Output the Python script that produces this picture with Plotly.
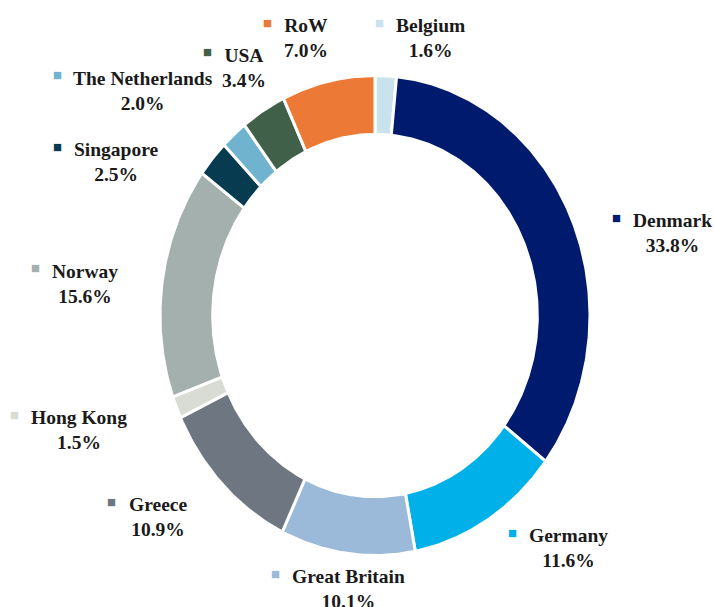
import numpy as np
import plotly.graph_objects as go

# ---- data ----
countries = ["Belgium", "Denmark", "Germany", "Great Britain", "Greece", "Hong Kong",
             "Norway", "Singapore", "The Netherlands", "USA", "RoW"]
shares = [1.6, 33.8, 11.6, 10.1, 10.9, 1.5, 15.6, 2.5, 2.0, 3.4, 7.0]
colors = ["#C9E2EC", "#001A6E", "#00B0E8", "#9BBAD9", "#6E7781", "#D8DCD4",
          "#A3B0AE", "#073B4F", "#6FB3CF", "#41604A", "#EC7A36"]

# ---- label placement style (angular nudge in degrees and radial factor) ----
label_shift_deg = [5.9, 6.0, -4.5, -1.2, 1.3, -0.2, -1.6, -7.9, 0.1, 2.3, -2.8]
label_radial = [1.01, 0.996, 1.03, 0.984, 1.046, 1.056, 1.007, 1.016, 1.07, 1.02, 1.035]

# ---- layout / style ----
W, H = 714, 607
CX, CY = 375, 315.5          # donut centre in pixels
RX, RY = 215, 240            # outer radii in pixels (ellipse)
HOLE = 0.755
FONT = "Liberation Serif, Times New Roman, serif"
FS = 19.5
TXT = "#1a1a1a"

# approximate advance widths (1/1000 em) of the bold serif face, to place the markers
ADV = {" ": 250, "A": 722, "B": 667, "D": 722, "G": 778, "H": 778, "K": 778, "N": 722,
       "R": 722, "S": 556, "T": 667, "U": 722, "W": 1000, "a": 500, "b": 556, "c": 444,
       "d": 556, "e": 444, "g": 500, "h": 556, "i": 278, "k": 556, "l": 278, "m": 833,
       "n": 556, "o": 500, "p": 556, "r": 444, "s": 389, "t": 333, "u": 556, "w": 722,
       "y": 500}


def text_w(s):
    return sum(ADV.get(ch, 556) for ch in s) / 1000 * FS


fig = go.Figure()
total = sum(shares)
start = 0.0
for name, v, col, sh, rf in zip(countries, shares, colors, label_shift_deg, label_radial):
    a0 = start / total * 2 * np.pi
    a1 = (start + v) / total * 2 * np.pi
    t = np.linspace(a0, a1, max(8, int(v * 6)))
    xo, yo = np.sin(t), np.cos(t)
    xs = np.concatenate([xo, HOLE * xo[::-1], [xo[0]]])
    ys = np.concatenate([yo, HOLE * yo[::-1], [yo[0]]])
    fig.add_trace(go.Scatter(x=xs, y=ys, mode="lines", fill="toself", fillcolor=col,
                             line=dict(color="white", width=3), hoverinfo="skip",
                             showlegend=False))
    # label: name with percentage centred below it, coloured square to the left
    m = (a0 + a1) / 2 + np.deg2rad(sh)
    s, c = np.sin(m) * rf, np.cos(m) * rf
    wpx = 17 + len(name) * 10
    ax, ay = (1 + 45 / RX) * s, (1 + 15 / RY) * c
    xs_px, ys_px = wpx / 2 * s + 9, 24 * c - 1
    fig.add_annotation(x=ax, y=ay, text=f"<b>{name}</b><br><b>{v:.1f}%</b>", showarrow=False,
                       xshift=xs_px, yshift=ys_px, align="center",
                       xanchor="center", yanchor="middle",
                       font=dict(family=FONT, size=FS, color=TXT))
    fig.add_annotation(x=ax, y=ay, text="■", showarrow=False,
                       xshift=xs_px - text_w(name) / 2 - 10, yshift=ys_px + 16,
                       xanchor="right", yanchor="middle",
                       font=dict(family="DejaVu Sans", size=9.5, color=col))
    start += v

fig.update_layout(
    width=W, height=H, margin=dict(l=0, r=0, t=0, b=0),
    paper_bgcolor="white", plot_bgcolor="white",
    xaxis=dict(range=[-CX / RX, (W - CX) / RX], visible=False, fixedrange=True),
    yaxis=dict(range=[-(H - CY) / RY, CY / RY], visible=False, fixedrange=True),
    showlegend=False,
)
fig.write_html("out.html", config={"displayModeBar": False},
               post_script="document.body.style.margin='0';document.body.style.overflow='hidden';")
